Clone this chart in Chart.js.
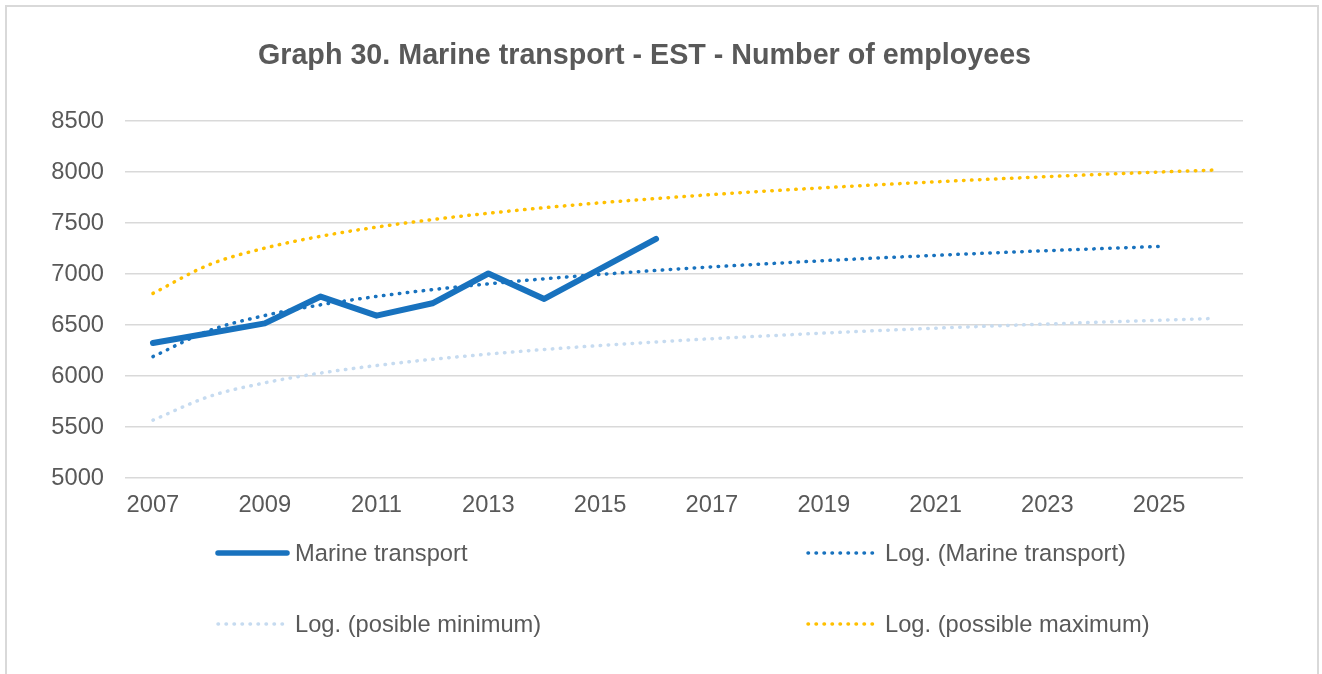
<!DOCTYPE html>
<html>
<head>
<meta charset="utf-8">
<script src="https://cdn.jsdelivr.net/npm/chart.js@4"></script>
<style>
  body { margin: 0; background: #fff; overflow: hidden; }
  #frame { position: absolute; left: 5px; top: 5px; width: 1314px; height: 700px; border: 2px solid #d9d9d9; box-sizing: border-box; }
  #wrap { position: absolute; left: 0; top: 0; width: 1322px; height: 674px; }
  .legend { position: absolute; font: 23.7px "Liberation Sans", Arial, sans-serif; color: #595959; white-space: nowrap; }
  .legend .item { position: absolute; display: flex; align-items: center; }
  .legend svg { display: block; margin-right: 5px; }
</style>
</head>
<body>
<div id="frame"></div>
<div id="wrap"><canvas id="chart" width="1322" height="674"></canvas></div>
<div class="legend" id="legend"></div>
<script>
// categories
const years = ["2007", "2008", "2009", "2010", "2011", "2012", "2013", "2014", "2015", "2016",
  "2017", "2018", "2019", "2020", "2021", "2022", "2023", "2024", "2025", "2026"];

// observed series (2007-2016)
const marineTransport = [6323, 6420, 6516, 6779, 6592, 6713, 7005, 6756, 7050, 7344];

// logarithmic trend lines
const logMarine = [6190, 6444, 6593, 6698, 6780, 6847, 6904, 6953, 6996, 7035,
  7070, 7101, 7131, 7158, 7183, 7207, 7229, 7250, 7270];
const logMinimum = [5567, 5798, 5933, 6029, 6103, 6164, 6215, 6260, 6299, 6334,
  6366, 6394, 6421, 6446, 6469, 6490, 6510, 6529, 6547, 6565];
const logMaximum = [6810, 7090, 7254, 7370, 7460, 7534, 7596, 7650, 7698, 7740,
  7779, 7814, 7846, 7876, 7904, 7930, 7955, 7978, 8000, 8020];

const yTicks = [5000, 5500, 6000, 6500, 7000, 7500, 8000, 8500];

const BLUE = "#1872be";
const LIGHT = "#c6dbf0";
const GOLD = "#ffc000";
const TEXT = "#595959";
const FONT = "'Liberation Sans', Arial, sans-serif";

const dotted = (label, data, color) => ({
  label: label,
  data: data,
  borderColor: color,
  backgroundColor: color,
  borderWidth: 3.5,
  borderDash: [0.5, 7.5],
  borderCapStyle: "round",
  pointRadius: 0,
  cubicInterpolationMode: "monotone",
  fill: false
});

const datasets = [
  {
    label: "Marine transport",
    data: marineTransport,
    borderColor: BLUE,
    backgroundColor: BLUE,
    borderWidth: 6,
    borderCapStyle: "round",
    borderJoinStyle: "round",
    pointRadius: 0,
    tension: 0,
    fill: false,
    order: 2
  },
  Object.assign(dotted("Log. (Marine transport)", logMarine, BLUE), { order: 1 }),
  Object.assign(dotted("Log. (posible minimum)", logMinimum, LIGHT), { order: 3 }),
  Object.assign(dotted("Log. (possible maximum)", logMaximum, GOLD), { order: 3 })
];

new Chart(document.getElementById("chart"), {
  type: "line",
  data: { labels: years, datasets: datasets },
  options: {
    responsive: false,
    animation: false,
    layout: { padding: { left: 46, right: 79, top: 0, bottom: 0 } },
    plugins: {
      legend: { display: false },
      tooltip: { enabled: false },
      title: {
        display: true,
        text: "Graph 30. Marine transport - EST - Number of employees",
        color: TEXT,
        font: { family: FONT, size: 28.7, weight: "bold", lineHeight: 1.2 },
        padding: { top: 39, bottom: 47.6 }
      }
    },
    scales: {
      x: {
        type: "category",
        offset: true,
        grid: { display: false, drawTicks: false },
        border: { display: false },
        ticks: {
          autoSkip: false,
          maxRotation: 0,
          padding: 13,
          color: TEXT,
          font: { family: FONT, size: 23.7 },
          callback: function (val, i) { return i % 2 === 0 ? this.getLabelForValue(val) : ""; }
        },
        afterFit: function (scale) { scale.height = 196; }
      },
      y: {
        min: 5000,
        max: 8500,
        afterBuildTicks: function (scale) { scale.ticks = yTicks.map(v => ({ value: v })); },
        grid: { color: "#d9d9d9", lineWidth: 1.5, drawTicks: false },
        border: { display: false },
        ticks: {
          padding: 21,
          color: TEXT,
          font: { family: FONT, size: 23.7 },
          callback: function (v) { return String(v); }
        },
        afterFit: function (scale) { scale.width = 79; }
      }
    }
  }
});

// legend laid out in two columns like the original
const legendItems = [
  { label: datasets[0].label, color: BLUE, solid: true, x: 215, y: 553 },
  { label: datasets[1].label, color: BLUE, solid: false, x: 805, y: 553 },
  { label: datasets[2].label, color: LIGHT, solid: false, x: 215, y: 624 },
  { label: datasets[3].label, color: GOLD, solid: false, x: 805, y: 624 }
];
const legend = document.getElementById("legend");
legendItems.forEach(function (it) {
  const div = document.createElement("div");
  div.className = "item";
  div.style.left = it.x + "px";
  div.style.top = (it.y - 15) + "px";
  div.style.height = "30px";
  const stroke = it.solid
    ? '<line x1="3" y1="6" x2="72" y2="6" stroke="' + it.color + '" stroke-width="5.5" stroke-linecap="round"/>'
    : '<line x1="3" y1="6" x2="72" y2="6" stroke="' + it.color + '" stroke-width="3.5" stroke-linecap="round" stroke-dasharray="0.5 7.5"/>';
  div.innerHTML = '<svg width="75" height="12">' + stroke + '</svg><span>' + it.label + '</span>';
  legend.appendChild(div);
});
</script>
</body>
</html>
